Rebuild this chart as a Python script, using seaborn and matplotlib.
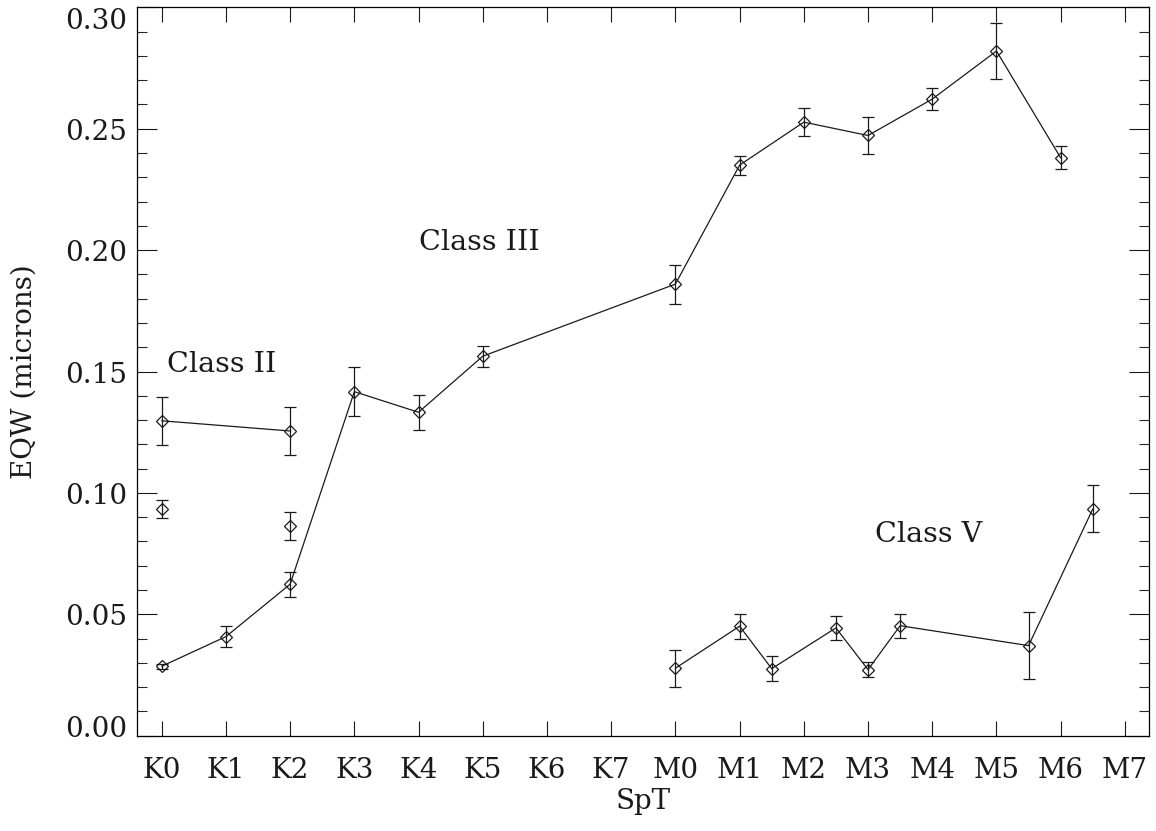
import numpy as np
import matplotlib
matplotlib.use("Agg")
import matplotlib.pyplot as plt
from matplotlib.ticker import MultipleLocator, NullFormatter
import seaborn as sns
import pandas as pd

# ---- data ----
spt_labels = ["K0", "K1", "K2", "K3", "K4", "K5", "K6", "K7",
              "M0", "M1", "M2", "M3", "M4", "M5", "M6", "M7"]
ytick_values = [0.00, 0.05, 0.10, 0.15, 0.20, 0.25, 0.30]
ytick_labels = ["0.00", "0.05", "0.10", "0.15", "0.20", "0.25", "0.30"]

class3_x = [0, 1, 2, 3, 4, 5, 8, 9, 10, 11, 12, 13, 14]
class3_y = [0.0286, 0.0408, 0.0624, 0.1417, 0.1332, 0.1563, 0.1860,
            0.2350, 0.2527, 0.2472, 0.2622, 0.2820, 0.2380]
class3_err = [0.0010, 0.0043, 0.0052, 0.0100, 0.0072, 0.0043, 0.0080,
              0.0039, 0.0058, 0.0078, 0.0047, 0.0115, 0.0047]

class2_x = [0, 2]
class2_y = [0.1297, 0.1255]
class2_err = [0.0099, 0.0100]

extra_x = [0, 2]
extra_y = [0.0933, 0.0863]
extra_err = [0.0038, 0.0058]

class5_x = [8, 9, 9.5, 10.5, 11, 11.5, 13.5, 14.5]
class5_y = [0.0278, 0.0451, 0.0276, 0.0444, 0.0272, 0.0453, 0.0371, 0.0934]
class5_err = [0.0077, 0.0052, 0.0051, 0.0049, 0.0032, 0.0049, 0.0137, 0.0097]

annotations = [("Class II", 0.08, 0.1496), ("Class III", 4.01, 0.2001), ("Class V", 11.11, 0.0799)]

# ---- style ----
sns.set_theme(style="ticks")
plt.rcParams["font.family"] = ["DejaVu Serif"]
plt.rcParams["xtick.direction"] = "in"
plt.rcParams["ytick.direction"] = "in"

fig = plt.figure(figsize=(11.56, 8.31), dpi=100)
ax = fig.add_axes([137.3 / 1156, 1 - 735.7 / 831, 1012 / 1156, 728.4 / 831])

col = "#1a1a1a"
series = [
    (class3_x, class3_y, class3_err, True),
    (class2_x, class2_y, class2_err, True),
    (extra_x, extra_y, extra_err, False),
    (class5_x, class5_y, class5_err, True),
]
for xs, ys, es, connect in series:
    df = pd.DataFrame({"x": xs, "y": ys})
    sns.lineplot(data=df, x="x", y="y", ax=ax, color=col,
                 linewidth=0.9 if connect else 0,
                 estimator=None, sort=False, marker="D", markersize=6.2,
                 markerfacecolor="none", markeredgecolor=col, markeredgewidth=0.9)
    ax.errorbar(xs, ys, yerr=es, fmt="none", ecolor=col, elinewidth=0.9,
                capsize=4, capthick=0.9)

for txt, tx, ty in annotations:
    ax.text(tx, ty, txt, fontsize=20.5, color=col, ha="left", va="baseline")

ax.set_xlim(-0.38, 15.38)
ax.set_xticks(range(len(spt_labels)))
ax.set_xticklabels(spt_labels)
ax.set_yticks(ytick_values)
ax.set_ylim(0.0, 0.30)
ax.yaxis.set_major_formatter(NullFormatter())
ax.yaxis.set_minor_locator(MultipleLocator(0.01))
ax.tick_params(axis="x", which="major", direction="in", length=10.6, width=0.8,
               top=True, bottom=True, labelsize=20, pad=15, colors=col)
ax.tick_params(axis="y", which="major", direction="in", length=14.4, width=0.8,
               left=True, right=True, colors=col)
ax.tick_params(axis="y", which="minor", direction="in", length=7.2, width=0.8,
               left=True, right=True)
ax.tick_params(axis="x", which="minor", bottom=False, top=False)
for s in ax.spines.values():
    s.set_linewidth(0.9)
    s.set_color("black")
    s.set_visible(True)

# IDL-like y tick labels: end labels kept inside the axis range
ytrans = ax.get_yaxis_transform()  # x in axes coords, y in data
n = len(ytick_values)
for i, (v, lab) in enumerate(zip(ytick_values, ytick_labels)):
    if i == 0:
        va, dy = "baseline", -0.7
    elif i == n - 1:
        va, dy = "top", -0.7
    else:
        va, dy = "center", -2.6
    ax.annotate(lab, xy=(0, v), xycoords=ytrans, xytext=(-7.5, dy),
                textcoords="offset points", ha="right", va=va,
                fontsize=20, color=col, annotation_clip=False)

ax.set_xlabel("SpT", fontsize=20, labelpad=3, color=col)
ax.set_ylabel("EQW (microns)", fontsize=20, color=col, va="center")
ax.yaxis.set_label_coords((24 - 137.3) / 1012, 0.4993)

fig.savefig("out.png", dpi=100, facecolor="white")
